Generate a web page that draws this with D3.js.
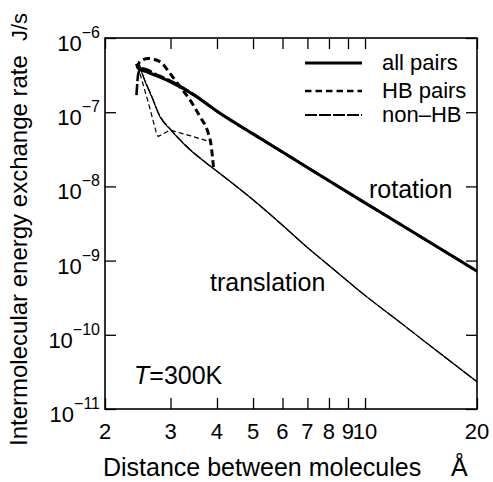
<!DOCTYPE html>
<html>
<head>
<meta charset="utf-8">
<script src="https://cdn.jsdelivr.net/npm/d3@7"></script>
<style>
  html, body { margin: 0; padding: 0; background: #fff; }
  svg text { font-family: "Liberation Sans", Arial, Helvetica, sans-serif; fill: #000; }
</style>
</head>
<body>
<svg id="chart" width="493" height="482"></svg>
<script>
// ---- data (distance in Å, rate in J/s) ----
const xTickValues = [2, 3, 4, 5, 6, 7, 8, 9, 10, 20];
const xTickLabels = ["2", "3", "4", "5", "6", "7", "8", "9", "10", "20"];
const yTickExponents = [-6, -7, -8, -9, -10, -11];

const rotationAll = [[2.43,4.5e-7],[2.46,3.9e-7],[2.6,3.47e-7],[2.8,3.0e-7],[3.0,2.57e-7],[3.5,1.66e-7],[4,1.03e-7],[5,5.1e-8],[6,2.9e-8],[7,1.8e-8],[8,1.19e-8],[10,6.0e-9],[12,3.44e-9],[15,1.74e-9],[20,7.2e-10]];
const translationAll = [[2.46,4.8e-7],[2.535,3.0e-7],[2.67,1.62e-7],[2.81,8.7e-8],[2.99,5.9e-8],[3.32,3.4e-8],[3.75,2.05e-8],[4,1.6e-8],[5,6.6e-9],[6,3.0e-9],[7,1.5e-9],[8,8.6e-10],[10,3.4e-10],[12.68,1.36e-10],[15,7.07e-11],[17.27,4.1e-11],[20,2.33e-11]];
const rotationHB = [[2.44,3.9e-7],[2.483,4.8e-7],[2.615,5.3e-7],[2.81,4.8e-7],[2.99,3.34e-7],[3.18,2.21e-7],[3.385,1.46e-7],[3.6,8.7e-8],[3.79,5.2e-8],[3.85,3.8e-8],[3.89,2.5e-8],[3.92,1.66e-8]];
const translationHB = [[2.45,4.2e-7],[2.615,1.35e-7],[2.75,5.2e-8],[2.78,4.7e-8],[2.99,5.75e-8],[3.4,4.8e-8],[3.83,4.0e-8]];
const rotationNonHB = [[2.43,1.7e-7],[2.458,3.3e-7],[2.5,3.9e-7],[2.8,3.1e-7],[3.0,2.65e-7],[3.5,1.68e-7],[4,1.03e-7],[5,5.1e-8],[6,2.9e-8],[7,1.8e-8],[8,1.19e-8],[10,6.0e-9],[12,3.44e-9],[15,1.74e-9],[20,7.2e-10]];
const translationNonHB = [[2.46,4.8e-7],[2.535,3.05e-7],[2.67,1.65e-7],[2.81,8.9e-8],[2.99,6.0e-8],[3.32,3.45e-8],[3.75,2.05e-8],[4,1.6e-8],[5,6.6e-9],[6,3.0e-9],[7,1.5e-9],[8,8.6e-10],[10,3.4e-10],[12.68,1.36e-10],[15,7.07e-11],[17.27,4.1e-11],[20,2.33e-11]];

const legendLabels = ["all pairs", "HB pairs", "non\u2013HB"];

// ---- layout ----
const L = 105, R = 477, T = 38, B = 409;
const svg = d3.select("#chart");
const x = d3.scaleLog().domain([2, 20]).range([L, R]);
const y = d3.scaleLog().domain([1e-11, 1e-6]).range([B, T]);

const yTickValues = yTickExponents.map(e => Math.pow(10, e));

// axes with inward ticks
function styleAxis(g) {
  g.select(".domain").remove();
  g.selectAll(".tick line").attr("stroke", "#000").attr("stroke-width", 1.3);
}
svg.append("g").attr("transform", `translate(0,${B})`)
  .call(d3.axisBottom(x).tickValues(xTickValues).tickSize(-11).tickFormat(""))
  .call(styleAxis);
svg.append("g").attr("transform", `translate(0,${T})`)
  .call(d3.axisTop(x).tickValues(xTickValues).tickSize(-11).tickFormat(""))
  .call(styleAxis);
svg.append("g").attr("transform", `translate(${L},0)`)
  .call(d3.axisLeft(y).tickValues(yTickValues).tickSize(-11).tickFormat(""))
  .call(styleAxis);
svg.append("g").attr("transform", `translate(${R},0)`)
  .call(d3.axisRight(y).tickValues(yTickValues).tickSize(-11).tickFormat(""))
  .call(styleAxis);

// frame
svg.append("rect").attr("x", L).attr("y", T).attr("width", R - L).attr("height", B - T)
  .attr("fill", "none").attr("stroke", "#000").attr("stroke-width", 1.6);

// x tick labels
svg.append("g").selectAll("text").data(xTickValues).join("text")
  .attr("x", d => x(d)).attr("y", B + 30)
  .attr("text-anchor", "middle").attr("font-size", 22)
  .text((d, i) => xTickLabels[i]);

// y tick labels 10^n
const yl = svg.append("g").selectAll("text").data(yTickExponents).join("text")
  .attr("x", L - 5).attr("y", d => y(Math.pow(10, d)) + 13)
  .attr("text-anchor", "end").attr("font-size", 22);
yl.append("tspan").text("10");
yl.append("tspan").attr("dy", -13).attr("font-size", 16).text(d => "\u2212" + Math.abs(d));

// axis titles
svg.append("text").attr("transform", "translate(27,446) rotate(-90)")
  .attr("font-size", 24).attr("text-anchor", "start")
  .text("Intermolecular energy exchange rate");
svg.append("text").attr("transform", "translate(27,41) rotate(-90)")
  .attr("font-size", 22).attr("text-anchor", "start").text("J/s");
svg.append("text").attr("x", 103).attr("y", 476).attr("font-size", 25).text("Distance between molecules");
svg.append("text").attr("x", 451).attr("y", 476).attr("font-size", 25).text("\u00C5");

// lines
const lineSmooth = d3.line().x(d => x(d[0])).y(d => y(d[1])).curve(d3.curveMonotoneX);
const lineStraight = d3.line().x(d => x(d[0])).y(d => y(d[1]));

const plot = svg.append("g");
plot.append("path").attr("d", lineSmooth(translationAll)).attr("fill", "none").attr("stroke", "#000").attr("stroke-width", 1.2);
plot.append("path").attr("d", lineSmooth(translationNonHB)).attr("fill", "none").attr("stroke", "#000").attr("stroke-width", 1.2).attr("stroke-dasharray", "10,2");
plot.append("path").attr("d", lineStraight(translationHB)).attr("fill", "none").attr("stroke", "#000").attr("stroke-width", 1.2).attr("stroke-dasharray", "5,3");
plot.append("path").attr("d", lineSmooth(rotationAll)).attr("fill", "none").attr("stroke", "#000").attr("stroke-width", 3);
plot.append("path").attr("d", lineSmooth(rotationNonHB)).attr("fill", "none").attr("stroke", "#000").attr("stroke-width", 2.6).attr("stroke-dasharray", "11,3");
plot.append("path").attr("d", lineSmooth(rotationHB)).attr("fill", "none").attr("stroke", "#000").attr("stroke-width", 3).attr("stroke-dasharray", "7,4");

// legend
const legY = [63, 91, 115];
const legDash = [null, "6.5,4", "12,2"];
const legW = [3, 2.3, 2.2];
legendLabels.forEach((lab, i) => {
  svg.append("line").attr("x1", 305).attr("x2", 362).attr("y1", legY[i]).attr("y2", legY[i])
    .attr("stroke", "#000").attr("stroke-width", legW[i])
    .attr("stroke-dasharray", legDash[i]);
  svg.append("text").attr("x", 382).attr("y", legY[i] + 7).attr("font-size", 22).text(lab);
});

// annotations
svg.append("text").attr("x", 369).attr("y", 198).attr("font-size", 25).text("rotation");
svg.append("text").attr("x", 210).attr("y", 291).attr("font-size", 25).text("translation");
const tl = svg.append("text").attr("x", 134).attr("y", 384).attr("font-size", 25);
tl.append("tspan").attr("font-style", "italic").text("T");
tl.append("tspan").text("=300K");
</script>
</body>
</html>
